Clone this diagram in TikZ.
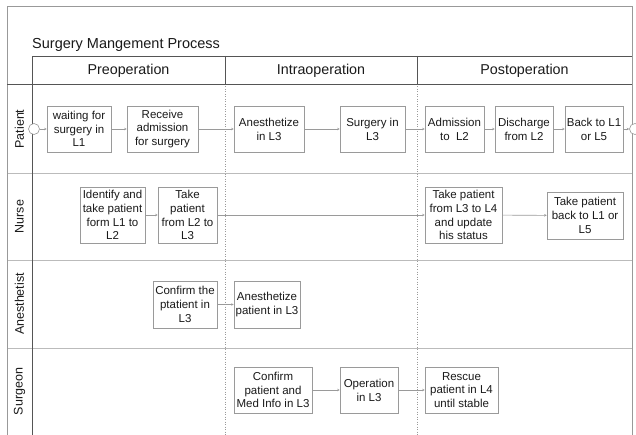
\documentclass[tikz,border=0pt]{standalone}
\usepackage{fontspec}
\setmainfont{Liberation Sans}
\usetikzlibrary{arrows.meta}
\definecolor{boxline}{HTML}{9A9A9A}
\definecolor{frameline}{HTML}{555555}
\definecolor{laneline}{HTML}{BBBBBB}
\definecolor{txt}{HTML}{1A1A1A}
\tikzset{
  box/.style={draw=boxline, line width=0.6pt, fill=white, align=center, inner sep=0pt,
    font=\fontsize{11.5}{13.8}\selectfont, text=txt},
  flow/.style={draw=boxline, line width=0.6pt, -{Stealth[length=2.5pt,width=2.5pt]}},
  lanelabel/.style={rotate=90, font=\fontsize{12.5}{15}\selectfont, text=txt},
  phase/.style={font=\fontsize{14.3}{17}\selectfont, text=txt},
  evt/.style={circle, draw=boxline, line width=0.6pt, fill=white, minimum size=11, inner sep=0pt},
  frame/.style={draw=frameline, line width=0.8pt},
  lane/.style={draw=laneline, line width=0.7pt},
  sep/.style={draw=boxline, line width=0.5pt, dotted}
}
\begin{document}
\begin{tikzpicture}[x=1pt,y=-1pt]
\useasboundingbox (0,0) rectangle (636,435);
\fill[white] (0,0) rectangle (636,435);
\begin{scope}
\clip (0,0) rectangle (636,435);
% lanes
\draw[lane] (7,173) -- (632,173);
\draw[lane] (7,260) -- (632,260);
\draw[lane] (7,348) -- (632,348);
% phase separators
\draw[sep] (225,84) -- (225,435);
\draw[sep] (417,84) -- (417,435);
% frame
\draw[draw=gray!80, line width=0.8pt] (7,435) -- (7,6) -- (632,6) -- (632,435);
\draw[frame] (32,84) -- (32,56) -- (632,56);
\draw[frame] (7,84) -- (632,84);
\draw[frame] (225,56) -- (225,84);
\draw[frame] (417,56) -- (417,84);
\draw[frame] (32,84) -- (32,435);
% title and headers
\node[anchor=west, font=\fontsize{14.5}{17}\selectfont, text=txt, inner sep=0pt] (title) at (32,45) {Surgery Mangement Process};
\node[phase] (pre) at (128.5,70.5) {Preoperation};
\node[phase] (intra) at (321,70.5) {Intraoperation};
\node[phase] (post) at (524.5,70.5) {Postoperation};
% lane labels
\node[lanelabel] (lpat) at (19.5,129) {Patient};
\node[lanelabel] (lnur) at (19.5,216.5) {Nurse};
\node[lanelabel] (lane) at (19.5,304) {Anesthetist};
\node[lanelabel] (lsur) at (19.5,391.5) {Surgeon};
% patient lane
\node[evt] (start) at (34,129) {};
\node[evt] (end) at (635,129) {};
\node[box, minimum width=64, minimum height=46] (wait) at (79,129) {waiting for\\surgery in\\L1};
\node[box, minimum width=71, minimum height=46] (recv) at (162.5,129) {Receive\\admission\\for surgery};
\node[box, minimum width=70, minimum height=46] (anes) at (269,129) {Anesthetize\\in L3};
\node[box, minimum width=65, minimum height=46] (surg) at (372.5,129) {Surgery in\\L3};
\node[box, minimum width=59, minimum height=46] (adm) at (454.5,129) {Admission\\to\ \ L2};
\node[box, minimum width=58, minimum height=46] (dis) at (524,129) {Discharge\\from L2};
\node[box, minimum width=58, minimum height=46] (back) at (594,129) {Back to L1\\or L5};
% nurse lane
\node[box, minimum width=65, minimum height=56] (ident) at (112.5,215) {Identify and\\take patient\\form L1 to\\L2};
\node[box, minimum width=59, minimum height=56] (take23) at (187.5,215) {Take\\patient\\from L2 to\\L3};
\node[box, minimum width=77, minimum height=56] (take34) at (463.5,215) {Take patient\\from L3 to L4\\and update\\his status};
\node[box, minimum width=76, minimum height=47] (takeback) at (585,215.5) {Take patient\\back to L1 or\\L5};
% anesthetist lane
\node[box, minimum width=64, minimum height=47] (conf) at (185,304.5) {Confirm the\\ptatient in\\L3};
\node[box, minimum width=66, minimum height=47] (anesp) at (267,304.5) {Anesthetize\\patient in L3};
% surgeon lane
\node[box, minimum width=78, minimum height=46] (confs) at (273,390) {Confirm\\patient and\\Med Info in L3};
\node[box, minimum width=58, minimum height=46] (oper) at (369,390) {Operation\\in L3};
\node[box, minimum width=73, minimum height=46] (resc) at (461.5,390) {Rescue\\patient in L4\\until stable};
% connectors
\draw[flow] (start) -- (wait);
\draw[flow] (wait) -- (recv);
\draw[flow] (recv) -- (anes);
\draw[flow] (anes) -- (surg);
\draw[flow] (surg) -- (adm);
\draw[flow] (adm) -- (dis);
\draw[flow] (dis) -- (back);
\draw[flow] (back) -- (end);
\draw[flow] (ident) -- (take23);
\draw[flow] (take23) -- (take34);
\draw[flow] (take34) -- (takeback);
\draw[flow] (conf) -- (anesp);
\draw[flow] (confs) -- (oper);
\draw[flow] (oper) -- (resc);
\end{scope}
\end{tikzpicture}
\end{document}
